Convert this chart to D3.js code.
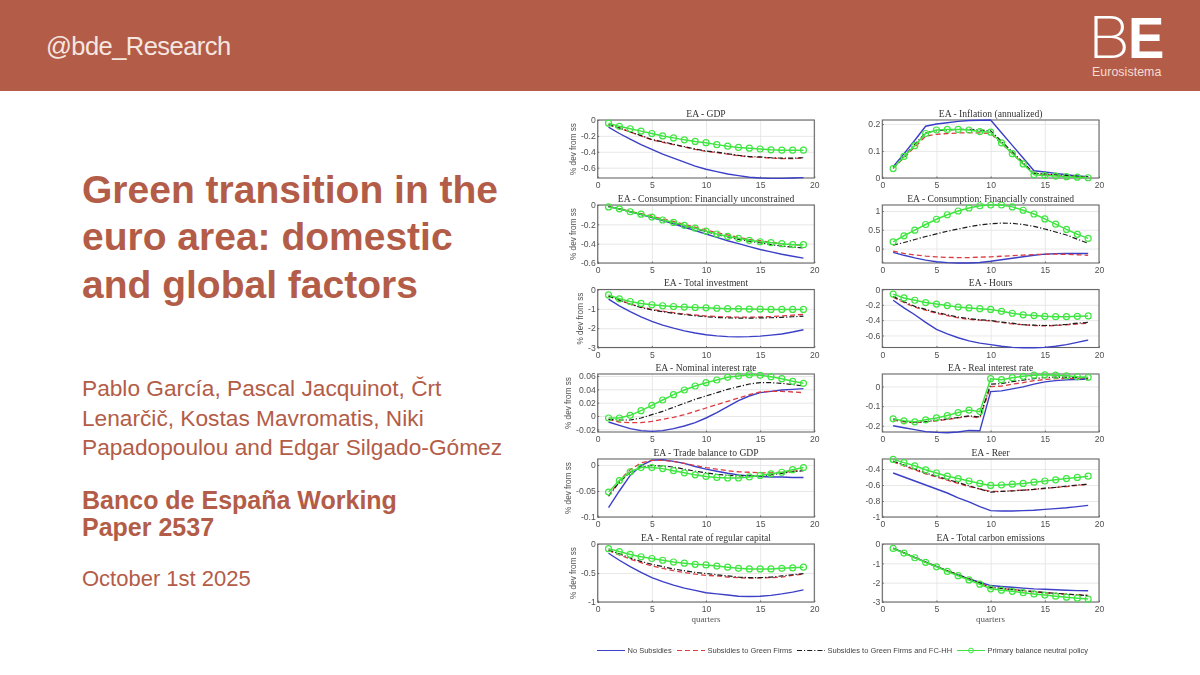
<!DOCTYPE html>
<html>
<head>
<meta charset="utf-8">
<title>Green transition in the euro area</title>
<script src="https://cdn.jsdelivr.net/npm/d3@7"></script>
<style>
  html, body { margin: 0; padding: 0; background: #fff; }
  svg { display: block; }
  .side text { font-family: "Liberation Sans", sans-serif; fill: #b35c47; }
  .panel-title { font-family: "Liberation Serif", serif; font-size: 9.6px; fill: #333; text-anchor: middle; }
  .tick text, .ylab, .legend text { font-family: "Liberation Sans", sans-serif; fill: #4f4f4f; }
  .tick text { font-size: 8.6px; }
  .ylab { font-size: 8.2px; text-anchor: middle; }
  .xlab { font-family: "Liberation Serif", serif; font-size: 9px; fill: #555; text-anchor: middle; }
  .legend text { font-size: 7.5px; fill: #444; }
</style>
</head>
<body>
<svg id="slide" width="1200" height="675"></svg>
<script>
var quarters = d3.range(1, 20);

// series: No subsidies, Green firms, Green firms + FC-HH, Primary balance neutral
var gdpNo = [-.09,-.17,-.24,-.31,-.37,-.43,-.48,-.53,-.58,-.62,-.65,-.68,-.70,-.72,-.73,-.735,-.735,-.73,-.725];
var gdpGreen = [-.06,-.10,-.15,-.20,-.25,-.28,-.31,-.34,-.37,-.395,-.41,-.43,-.45,-.465,-.47,-.48,-.485,-.485,-.48];
var gdpFc = [-.06,-.10,-.15,-.195,-.245,-.275,-.305,-.335,-.365,-.39,-.405,-.425,-.445,-.46,-.465,-.475,-.48,-.48,-.475];
var gdpPb = [-.04,-.08,-.11,-.14,-.17,-.20,-.225,-.25,-.27,-.285,-.31,-.33,-.345,-.355,-.365,-.375,-.38,-.38,-.38];

var unconNo = [-.02,-.04,-.07,-.10,-.13,-.16,-.195,-.23,-.265,-.30,-.335,-.37,-.40,-.43,-.46,-.485,-.51,-.53,-.55];
var unconGreen = [-.015,-.04,-.065,-.09,-.115,-.145,-.17,-.20,-.23,-.26,-.285,-.31,-.335,-.355,-.37,-.385,-.40,-.41,-.42];
var unconFc = [-.015,-.04,-.07,-.095,-.125,-.155,-.185,-.215,-.245,-.275,-.305,-.33,-.355,-.375,-.39,-.41,-.425,-.435,-.445];
var unconPb = [-.02,-.04,-.07,-.095,-.125,-.155,-.18,-.21,-.24,-.27,-.30,-.325,-.345,-.365,-.38,-.39,-.40,-.41,-.41];

var investNo = [-.5,-.85,-1.15,-1.42,-1.65,-1.84,-2.0,-2.14,-2.25,-2.34,-2.4,-2.44,-2.45,-2.44,-2.41,-2.36,-2.3,-2.2,-2.08];
var investGreen = [-.35,-.55,-.75,-.9,-1.03,-1.12,-1.2,-1.27,-1.32,-1.37,-1.4,-1.42,-1.43,-1.43,-1.42,-1.4,-1.37,-1.33,-1.28];
var investFc = [-.33,-.55,-.76,-.93,-1.06,-1.15,-1.23,-1.3,-1.36,-1.41,-1.45,-1.47,-1.48,-1.48,-1.47,-1.46,-1.44,-1.41,-1.38];
var investPb = [-.28,-.48,-.62,-.72,-.79,-.84,-.88,-.91,-.93,-.95,-.97,-.99,-1.0,-1.01,-1.02,-1.03,-1.03,-1.03,-1.03];

var nominalNo = [-.009,-.014,-.019,-.022,-.023,-.022,-.019,-.015,-.01,-.003,.005,.014,.023,.03,.035,.037,.039,.04,.041];
var nominalGreen = [-.005,-.009,-.01,-.01,-.008,-.005,-.002,.002,.007,.012,.017,.022,.027,.032,.036,.037,.037,.036,.035];
var nominalFc = [-.005,-.006,-.006,-.003,.002,.007,.013,.019,.025,.03,.035,.04,.044,.048,.05,.05,.049,.047,.045];
var nominalPb = [-.003,-.003,.001,.008,.016,.024,.032,.039,.045,.05,.054,.058,.06,.062,.061,.059,.056,.052,.049];

var tradeNo = [-.082,-.05,-.02,-.001,.009,.01,.007,.003,-.003,-.008,-.012,-.016,-.019,-.021,-.022,-.023,-.023,-.024,-.024];
var tradeGreen = [-.06,-.03,-.009,.004,.009,.009,.007,.003,-.001,-.005,-.008,-.011,-.013,-.014,-.015,-.015,-.014,-.012,-.01];
var tradeFc = [-.06,-.033,-.014,-.004,-.001,-.002,-.004,-.008,-.012,-.015,-.018,-.02,-.021,-.021,-.021,-.019,-.016,-.013,-.011];
var tradePb = [-.052,-.03,-.013,-.005,-.005,-.007,-.011,-.015,-.019,-.022,-.024,-.025,-.025,-.023,-.02,-.017,-.014,-.009,-.005];

var rentalNo = [-.16,-.28,-.39,-.49,-.58,-.65,-.71,-.76,-.8,-.84,-.86,-.88,-.9,-.905,-.9,-.885,-.86,-.83,-.79];
var rentalGreen = [-.11,-.19,-.26,-.32,-.38,-.42,-.46,-.49,-.52,-.54,-.55,-.57,-.58,-.59,-.585,-.58,-.57,-.54,-.52];
var rentalFc = [-.1,-.17,-.24,-.3,-.35,-.39,-.43,-.46,-.49,-.51,-.53,-.55,-.57,-.58,-.58,-.57,-.55,-.53,-.51];
var rentalPb = [-.08,-.13,-.18,-.22,-.25,-.28,-.31,-.33,-.35,-.36,-.38,-.4,-.42,-.43,-.43,-.43,-.42,-.41,-.4];

var inflationNo = [.042,.09,.14,.192,.2,.205,.21,.213,.214,.215,.168,.121,.074,.027,.022,.017,.012,.008,.005];
var inflationGreen = [.035,.075,.115,.155,.162,.165,.167,.168,.167,.165,.128,.09,.053,.016,.013,.01,.008,.005,.003];
var inflationFc = [.038,.08,.125,.168,.175,.178,.18,.18,.178,.175,.136,.097,.057,.018,.015,.012,.009,.006,.004];
var inflationPb = [.035,.08,.12,.165,.178,.18,.18,.178,.172,.17,.13,.09,.052,.012,.009,.007,.005,.003,.001];

var conNo = [-.1,-.18,-.25,-.31,-.35,-.375,-.385,-.385,-.37,-.34,-.3,-.26,-.22,-.18,-.15,-.135,-.13,-.13,-.13];
var conGreen = [-.07,-.13,-.17,-.2,-.22,-.235,-.24,-.24,-.23,-.22,-.205,-.19,-.175,-.16,-.15,-.15,-.155,-.165,-.18];
var conFc = [.09,.16,.24,.32,.39,.46,.52,.58,.63,.66,.68,.67,.64,.59,.52,.44,.36,.25,.14];
var conPb = [.18,.34,.49,.64,.78,.9,1.0,1.08,1.14,1.16,1.16,1.11,1.02,.92,.79,.65,.51,.38,.27];

var hoursNo = [-.14,-.24,-.33,-.43,-.52,-.58,-.63,-.67,-.7,-.72,-.74,-.755,-.76,-.76,-.755,-.74,-.72,-.69,-.66];
var hoursGreen = [-.1,-.17,-.23,-.27,-.31,-.34,-.37,-.39,-.4,-.41,-.43,-.45,-.46,-.47,-.475,-.47,-.46,-.45,-.44];
var hoursFc = [-.09,-.16,-.22,-.26,-.3,-.33,-.36,-.38,-.395,-.405,-.425,-.44,-.46,-.465,-.47,-.465,-.455,-.44,-.43];
var hoursPb = [-.06,-.11,-.14,-.17,-.19,-.21,-.23,-.24,-.25,-.26,-.285,-.31,-.33,-.34,-.35,-.355,-.355,-.35,-.345];

var realNo = [-.2,-.21,-.22,-.23,-.234,-.236,-.232,-.224,-.226,-.026,-.022,-.012,-.002,.012,.024,.03,.034,.036,.038];
var realGreen = [-.17,-.18,-.185,-.18,-.175,-.168,-.16,-.152,-.16,0,.002,.012,.02,.03,.036,.04,.042,.042,.042];
var realFc = [-.165,-.178,-.182,-.18,-.172,-.165,-.158,-.15,-.155,.012,.015,.025,.033,.04,.046,.048,.048,.045,.043];
var realPb = [-.165,-.175,-.18,-.17,-.16,-.148,-.133,-.12,-.128,.04,.035,.045,.052,.058,.06,.058,.055,.05,.047];

var reerNo = [-.45,-.5,-.55,-.6,-.65,-.7,-.76,-.81,-.87,-.92,-.925,-.925,-.92,-.915,-.905,-.895,-.885,-.87,-.855];
var reerGreen = [-.31,-.36,-.41,-.46,-.5,-.54,-.58,-.62,-.65,-.68,-.68,-.67,-.665,-.655,-.645,-.63,-.62,-.605,-.59];
var reerFc = [-.3,-.35,-.4,-.45,-.49,-.53,-.57,-.61,-.65,-.69,-.68,-.675,-.665,-.655,-.64,-.63,-.615,-.6,-.59];
var reerPb = [-.28,-.32,-.36,-.41,-.45,-.49,-.52,-.55,-.58,-.605,-.6,-.59,-.58,-.565,-.55,-.535,-.52,-.505,-.49];

var carbonNo = [-.22,-.46,-.7,-.93,-1.16,-1.39,-1.6,-1.8,-1.98,-2.15,-2.2,-2.24,-2.28,-2.32,-2.34,-2.37,-2.39,-2.41,-2.42];
var carbonGreen = [-.22,-.46,-.7,-.94,-1.17,-1.39,-1.6,-1.82,-2.03,-2.25,-2.3,-2.36,-2.41,-2.47,-2.52,-2.56,-2.6,-2.63,-2.66];
var carbonFc = [-.22,-.46,-.7,-.94,-1.17,-1.38,-1.59,-1.8,-2.02,-2.24,-2.3,-2.36,-2.41,-2.46,-2.51,-2.55,-2.59,-2.63,-2.67];
var carbonPb = [-.23,-.47,-.71,-.95,-1.18,-1.42,-1.64,-1.86,-2.08,-2.32,-2.39,-2.45,-2.52,-2.58,-2.64,-2.7,-2.75,-2.8,-2.85];

var xTicks = [0, 5, 10, 15, 20];
var seriesNames = ["No Subsidies", "Subsidies to Green Firms", "Subsidies to Green Firms and FC-HH", "Primary balance neutral policy"];

var titleLines = ["Green transition in the", "euro area: domestic", "and global factors"];
var authorLines = ["Pablo García, Pascal Jacquinot, Črt", "Lenarčič, Kostas Mavromatis, Niki", "Papadopoulou and Edgar Silgado-Gómez"];
var paperLines = ["Banco de España Working", "Paper 2537"];

// table built from the arrays above, column by column
var leftPanels = [
  { title: "EA - GDP", domain: [-.73, 0], ticks: [0, -.2, -.4, -.6], lines: [gdpNo, gdpGreen, gdpFc, gdpPb] },
  { title: "EA - Consumption: Financially unconstrained", domain: [-.6, 0], ticks: [0, -.2, -.4, -.6], lines: [unconNo, unconGreen, unconFc, unconPb] },
  { title: "EA - Total investment", domain: [-3, 0], ticks: [0, -1, -2, -3], lines: [investNo, investGreen, investFc, investPb] },
  { title: "EA - Nominal interest rate", domain: [-.024, .063], ticks: [-.02, 0, .02, .04, .06], lines: [nominalNo, nominalGreen, nominalFc, nominalPb] },
  { title: "EA - Trade balance to GDP", domain: [-.1, .0115], ticks: [0, -.05, -.1], lines: [tradeNo, tradeGreen, tradeFc, tradePb] },
  { title: "EA - Rental rate of regular capital", domain: [-1, 0], ticks: [0, -.5, -1], lines: [rentalNo, rentalGreen, rentalFc, rentalPb] }
];
var rightPanels = [
  { title: "EA - Inflation (annualized)", domain: [0, .215], ticks: [0, .1, .2], lines: [inflationNo, inflationGreen, inflationFc, inflationPb] },
  { title: "EA - Consumption: Financially constrained", domain: [-.385, 1.16], ticks: [0, .5, 1], lines: [conNo, conGreen, conFc, conPb] },
  { title: "EA - Hours", domain: [-.757, 0], ticks: [0, -.2, -.4, -.6], lines: [hoursNo, hoursGreen, hoursFc, hoursPb] },
  { title: "EA - Real interest rate", domain: [-.232, .064], ticks: [0, -.1, -.2], lines: [realNo, realGreen, realFc, realPb] },
  { title: "EA - Reer", domain: [-1, -.275], ticks: [-.4, -.6, -.8, -1], lines: [reerNo, reerGreen, reerFc, reerPb] },
  { title: "EA - Total carbon emissions", domain: [-3, 0], ticks: [0, -1, -2, -3], lines: [carbonNo, carbonGreen, carbonFc, carbonPb] }
];

var lineStyles = [
  { color: "#3b3fc6", dash: null, width: 1.4 },
  { color: "#dc3a40", dash: "5,3", width: 1.3 },
  { color: "#1c1c1c", dash: "5,2,1.2,2", width: 1.2 },
  { color: "#3fe640", dash: null, width: 1.5 }
];

var svg = d3.select("#slide");
var brick = "#b35c47";

// header band and logo
svg.append("rect").attr("width", 1200).attr("height", 91).attr("fill", brick);
svg.append("text").text("@bde_Research").attr("x", 46).attr("y", 55)
  .attr("font-family", "Liberation Sans").attr("font-size", 25.5).attr("letter-spacing", -0.55).attr("fill", "#f6e6e0");
svg.append("text").text("B").attr("transform", "translate(1087.5,57.5) scale(1.15,1)")
  .attr("font-family", "Inter").attr("font-weight", 250).attr("font-size", 58).attr("fill", "#fff");
svg.append("text").text("E").attr("transform", "translate(1128,57.5) scale(.94,1)")
  .attr("font-family", "Liberation Sans").attr("font-weight", 700).attr("font-size", 58).attr("fill", "#fff");
svg.append("text").text("Eurosistema").attr("x", 1092).attr("y", 76)
  .attr("font-family", "Liberation Sans").attr("font-size", 12.4).attr("letter-spacing", 0.05).attr("fill", "#f3dcd4");

// left column text
var side = svg.append("g").attr("class", "side");
titleLines.forEach(function(line, i) {
  side.append("text").text(line).attr("x", 82).attr("y", 203 + i * 47.3)
    .attr("font-size", 39).attr("font-weight", 700);
});
authorLines.forEach(function(line, i) {
  side.append("text").text(line).attr("x", 82).attr("y", 396 + i * 29.5).attr("font-size", 22.7);
});
paperLines.forEach(function(line, i) {
  side.append("text").text(line).attr("x", 82).attr("y", 509 + i * 27)
    .attr("font-size", 25).attr("font-weight", 700);
});
side.append("text").text("October 1st 2025").attr("x", 82).attr("y", 586).attr("font-size", 22);

// the pasted figure is soft in the reference
var defs = svg.append("defs");
defs.append("filter").attr("id", "soft").append("feGaussianBlur").attr("stdDeviation", 0.5);
var figure = svg.append("g").attr("filter", "url(#soft)");

var panelTops = [120, 205, 289.5, 374, 459, 544];
var panelH = 58;

function drawPanel(p, i, left, width) {
  var top = panelTops[i];
  var x = d3.scaleLinear().domain([0, 20]).range([left, left + width]);
  var y = d3.scaleLinear().domain(p.domain).range([top + panelH, top]);
  var g = figure.append("g");

  // grid
  g.append("g").attr("transform", "translate(0," + (top + panelH) + ")")
    .call(d3.axisBottom(x).tickValues(xTicks).tickSize(-panelH).tickFormat(""))
    .call(function(s) { s.select(".domain").remove(); s.selectAll("line").attr("stroke", "#e2e2e2").attr("stroke-width", 0.8); });
  g.append("g").attr("transform", "translate(" + left + ",0)")
    .call(d3.axisLeft(y).tickValues(p.ticks).tickSize(-width).tickFormat(""))
    .call(function(s) { s.select(".domain").remove(); s.selectAll("line").attr("stroke", "#e2e2e2").attr("stroke-width", 0.8); });

  // axes with the short inward ticks
  g.append("g").attr("transform", "translate(0," + (top + panelH) + ")")
    .call(d3.axisBottom(x).tickValues(xTicks).tickSizeInner(-1.5).tickSizeOuter(0).tickPadding(4).tickFormat(String))
    .call(function(s) { s.selectAll("line").attr("stroke", "#666"); s.select(".domain").attr("stroke", "none"); });
  var yAxis = g.append("g").attr("transform", "translate(" + left + ",0)")
    .call(d3.axisLeft(y).tickValues(p.ticks).tickSizeInner(-1.5).tickSizeOuter(0).tickPadding(2).tickFormat(String))
    .call(function(s) { s.selectAll("line").attr("stroke", "#666"); s.select(".domain").attr("stroke", "none"); });

  g.append("rect").attr("x", left).attr("y", top).attr("width", width).attr("height", panelH)
    .attr("fill", "none").attr("stroke", "#666").attr("stroke-width", 1.1);

  var line = d3.line().x(function(d, k) { return x(quarters[k]); }).y(function(d) { return y(d); });
  p.lines.forEach(function(values, k) {
    var st = lineStyles[k];
    g.append("path").datum(values).attr("d", line).attr("fill", "none")
      .attr("stroke", st.color).attr("stroke-width", st.width).attr("stroke-dasharray", st.dash);
  });
  g.selectAll("circle").data(p.lines[3]).enter().append("circle")
    .attr("cx", function(d, k) { return x(quarters[k]); })
    .attr("cy", function(d) { return y(d); })
    .attr("r", 3).attr("fill", "none").attr("stroke", lineStyles[3].color).attr("stroke-width", 1.2);

  g.append("text").attr("class", "panel-title").text(p.title)
    .attr("x", left + width / 2).attr("y", top - 3.5);
  return { g: g, yAxis: yAxis, cy: top + panelH / 2 };
}

leftPanels.forEach(function(p, i) {
  var r = drawPanel(p, i, 597.7, 216.6);
  // ylabel sits just outside the widest tick label, like matlab does it
  var box = r.yAxis.selectAll("text").nodes().map(function(n) { return n.getBBox().width; });
  var lx = 597.7 - d3.max(box) - 7;
  r.g.append("text").attr("class", "ylab").text("% dev from ss")
    .attr("transform", "translate(" + lx + "," + r.cy + ") rotate(-90)");
});
rightPanels.forEach(function(p, i) {
  drawPanel(p, i, 882.3, 216.7);
});

figure.append("text").attr("class", "xlab").text("quarters").attr("x", 706).attr("y", 622);
figure.append("text").attr("class", "xlab").text("quarters").attr("x", 990.6).attr("y", 622);

// legend
var legendX = [597, 677, 797, 957];
var legend = figure.append("g").attr("class", "legend");
seriesNames.forEach(function(name, k) {
  var st = lineStyles[k];
  legend.append("line").attr("x1", legendX[k]).attr("x2", legendX[k] + 28).attr("y1", 650.5).attr("y2", 650.5)
    .attr("stroke", st.color).attr("stroke-width", 1).attr("stroke-dasharray", st.dash);
  legend.append("text").text(name).attr("x", legendX[k] + 30.5).attr("y", 653.3);
});
legend.append("circle").attr("cx", legendX[3] + 14).attr("cy", 650.5).attr("r", 2.4)
  .attr("fill", "none").attr("stroke", lineStyles[3].color).attr("stroke-width", 1);
</script>
</body>
</html>
